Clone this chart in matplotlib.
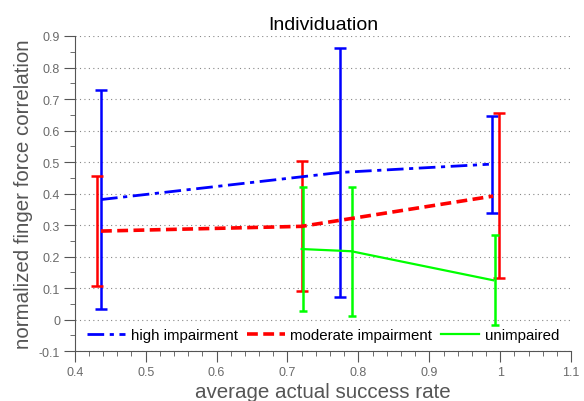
import matplotlib
matplotlib.use('Agg')
import matplotlib.pyplot as plt
from matplotlib import ticker

plt.rcParams['font.family'] = ['Liberation Sans', 'DejaVu Sans']

# line data (group means)
high_x = [0.437, 0.774, 0.984]
high_y = [0.381, 0.467, 0.493]
mod_x = [0.437, 0.72, 0.99]
mod_y = [0.281, 0.296, 0.392]
unimp_x = [0.72, 0.79, 0.99]
unimp_y = [0.224, 0.217, 0.125]

# error bars (slightly offset x positions)
high_ex = [0.437, 0.774, 0.988]
high_ey = [0.381, 0.467, 0.492]
high_err = [0.348, 0.395, 0.155]
mod_ex = [0.431, 0.72, 0.998]
mod_ey = [0.281, 0.296, 0.394]
mod_err = [0.174, 0.206, 0.262]
unimp_ex = [0.722, 0.791, 0.993]
unimp_ey = [0.225, 0.217, 0.126]
unimp_err = [0.197, 0.204, 0.143]

grey = '#555555'
tick_grey = '#6a6a6a'

fig = plt.figure(figsize=(5.84, 4.02), dpi=100)
ax = fig.add_axes([0.128, 0.124, 0.85, 0.784])

ax.errorbar(high_ex, high_ey, yerr=high_err, fmt='none', ecolor='#0000ff', elinewidth=1.8, capsize=4, capthick=1.8)
ax.errorbar(mod_ex, mod_ey, yerr=mod_err, fmt='none', ecolor='#ff0000', elinewidth=1.8, capsize=4, capthick=1.8)
ax.errorbar(unimp_ex, unimp_ey, yerr=unimp_err, fmt='none', ecolor='#00ff00', elinewidth=1.8, capsize=3, capthick=1.8)

ax.plot(high_x, high_y, color='#0000ff', linestyle=(0, (6, 2, 1.5, 2)), linewidth=2, label='high impairment')
ax.plot(mod_x, mod_y, color='#ff0000', linestyle=(0, (3, 1.5)), linewidth=2.6, label='moderate impairment')
ax.plot(unimp_x, unimp_y, color='#00ff00', linestyle='-', linewidth=1.6, label='unimpaired')

ax.set_xlim(0.4, 1.1)
ax.set_ylim(-0.1, 0.9)
ax.xaxis.set_major_locator(ticker.MultipleLocator(0.1))
ax.xaxis.set_minor_locator(ticker.MultipleLocator(0.02))
ax.yaxis.set_major_locator(ticker.MultipleLocator(0.1))
ax.yaxis.set_minor_locator(ticker.MultipleLocator(0.05))
ax.xaxis.set_major_formatter(ticker.FuncFormatter(lambda v, p: ('%g' % round(v, 2))))
ax.yaxis.set_major_formatter(ticker.FuncFormatter(lambda v, p: ('%g' % round(v, 2))))

ax.yaxis.grid(True, linestyle=(0, (1, 3)), color='#888888', linewidth=0.8)
ax.set_axisbelow(True)

ax.spines['top'].set_visible(False)
ax.spines['right'].set_visible(False)
ax.spines['left'].set_color(grey)
ax.spines['bottom'].set_color(grey)
ax.tick_params(which='major', direction='out', length=8, color=grey, labelcolor=tick_grey, labelsize=9, pad=2.5)
ax.tick_params(which='minor', direction='out', length=3.5, color=grey)

ax.set_title('Individuation', fontsize=14, color='black', pad=5)
ax.set_xlabel('average actual success rate', fontsize=14.8, color=grey, labelpad=3)
ax.set_ylabel('normalized finger force correlation', fontsize=14.8, color=grey, labelpad=4)

ax.legend(loc='center', bbox_to_anchor=(0.5, 0.05), ncol=3, frameon=False,
          fontsize=10.8, handlelength=2.55, columnspacing=0.6, handletextpad=0.35,
          borderpad=0, borderaxespad=0)

fig.savefig('out.png', dpi=100)
